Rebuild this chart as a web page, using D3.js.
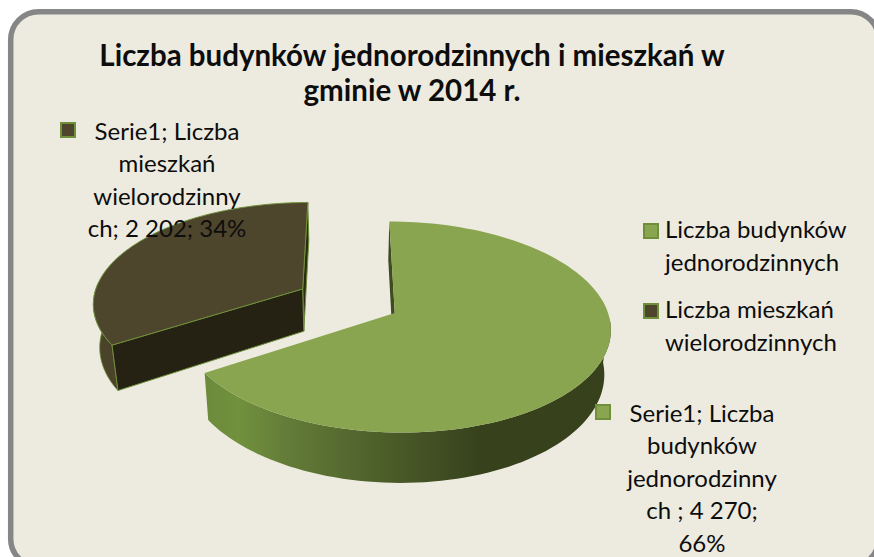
<!DOCTYPE html>
<html lang="pl">
<head>
<meta charset="utf-8">
<script src="https://cdn.jsdelivr.net/npm/d3@7"></script>
<style>
html,body{margin:0;padding:0;background:#fff;overflow:hidden}
svg{display:block}
text{font-family:Lato,Carlito,"Open Sans",sans-serif;fill:#0d0d0d}
</style>
</head>
<body>
<svg id="c" width="874" height="557"></svg>
<script>
const categories = ["Liczba budynków jednorodzinnych", "Liczba mieszkań wielorodzinnych"];
const values = [4270, 2202];
const titleLines = ["Liczba budynków jednorodzinnych i mieszkań w", "gminie w 2014 r."];
const legendLines = [["Liczba budynków", "jednorodzinnych"], ["Liczba mieszkań", "wielorodzinnych"]];
const dataLabelLines = [
  ["Serie1; Liczba", "budynków", "jednorodzinny", "ch ; 4 270;", "66%"],
  ["Serie1; Liczba", "mieszkań", "wielorodzinny", "ch; 2 202; 34%"]
];
const topColors = ["#8aa550", "#4d452c"];
const rimColor = "#6f8f3a";

const W = 874, H = 557;
const svg = d3.select("#c");
const defs = svg.append("defs");

/* panel */
svg.append("rect").attr("x", 10.7).attr("y", 11.7).attr("width", 868).attr("height", 555)
  .attr("rx", 28).attr("fill", "#edebe0").attr("stroke", "#868686").attr("stroke-width", 5.5);

/* perspective projection of the pie's plane */
const explode = 0.25, persp = 0.13, depth = 43;
const sx = d3.scaleLinear().domain([0, 1]).range([348, 558]);
const sy = d3.scaleLinear().domain([0, 1]).range([300.8, 200.3]);
function project(u, v, lower) {
  const d = 1 + persp * v;
  let x = sx(u / d), y = sy(v / d);
  if (lower) {
    x = sx(0) + (x - sx(0)) * 0.975;
    y = y + depth / d;
  }
  return [x, y];
}

const arcs = d3.pie().sort(null).startAngle(0).endAngle(2 * Math.PI)(values);
const line = d3.line();

function slice(a) {
  const mid = (a.startAngle + a.endAngle) / 2;
  const u0 = Math.sin(mid) * explode, v0 = Math.cos(mid) * explode;
  const rimAt = (t, lower) => project(u0 + Math.sin(t), v0 + Math.cos(t), lower);
  const apex = lower => project(u0, v0, lower);
  const ts = d3.range(0, 121).map(i => a.startAngle + (a.endAngle - a.startAngle) * i / 120);
  return {rimAt, apex, ts};
}
const green = slice(arcs[0]), dark = slice(arcs[1]);

/* horizontal shading of the outer wall */
const grad = defs.append("linearGradient").attr("id", "wall")
  .attr("gradientUnits", "userSpaceOnUse").attr("x1", 205).attr("x2", 480).attr("y1", 0).attr("y2", 0);
[[0, "#6c8a3c"], [0.12, "#71913d"], [0.3, "#637c38"], [0.62, "#4e602b"], [1, "#37421c"]]
  .forEach(([o, c]) => grad.append("stop").attr("offset", o).attr("stop-color", c));

function wall(s, ts, fill, stroke) {
  const pts = ts.map(t => s.rimAt(t, false)).concat(ts.slice().reverse().map(t => s.rimAt(t, true)));
  svg.append("path").attr("d", line(pts) + "Z").attr("fill", fill)
    .attr("stroke", stroke || "none").attr("stroke-width", stroke ? 0.8 : 0);
}
function face(pts, fill, stroke) {
  svg.append("path").attr("d", line(pts) + "Z").attr("fill", fill)
    .attr("stroke", stroke || "none").attr("stroke-width", stroke ? 1 : 0);
}

/* dark slice */
const dA0 = arcs[1].startAngle, dA1 = arcs[1].endAngle;
face([dark.rimAt(dA1, false), dark.apex(false), dark.apex(true), dark.rimAt(dA1, true)], "#2a2c12", rimColor);
wall(dark, dark.ts.filter(t => t < dA0 + (dA1 - dA0) * 0.3), "#4a4329", rimColor);
face([dark.apex(false), dark.rimAt(dA0, false), dark.rimAt(dA0, true), dark.apex(true)], "#252113", rimColor);
face([dark.apex(false)].concat(dark.ts.map(t => dark.rimAt(t, false))), topColors[1], rimColor);

/* green slice */
const gA0 = arcs[0].startAngle, gA1 = arcs[0].endAngle;
face([green.rimAt(gA0, false), green.apex(false), green.apex(true), green.rimAt(gA0, true)], "#3e4c20");
wall(green, green.ts.filter(t => t > 1.6), "url(#wall)");
face([green.apex(false)].concat(green.ts.map(t => green.rimAt(t, false))), topColors[0]);

/* title */
const title = svg.append("text").attr("text-anchor", "middle").attr("font-size", 29.5).attr("font-weight", 700);
titleLines.forEach((t, i) => title.append("tspan").attr("x", 412).attr("y", 66 + i * 35).text(t));

/* markers + text */
function marker(x, y, c) {
  svg.append("rect").attr("x", x + 1).attr("y", y + 1).attr("width", 14).attr("height", 14)
    .attr("fill", c).attr("stroke", rimColor).attr("stroke-width", 2);
}
function block(lines, x, y0, lh, anchor, size) {
  const t = svg.append("text").attr("text-anchor", anchor).attr("font-size", size);
  lines.forEach((l, i) => t.append("tspan").attr("x", x).attr("y", y0 + i * lh).text(l));
}

/* legend */
[223, 303].forEach((y, i) => {
  marker(643, y, topColors[i]);
  block(legendLines[i], 665, y + 15, 32.5, "start", 24);
});

/* data labels */
marker(60, 122, topColors[1]);
block(dataLabelLines[1], 167, 140, 32.3, "middle", 24);
marker(595, 404, topColors[0]);
block(dataLabelLines[0], 702, 422, 32.4, "middle", 24);
</script>
</body>
</html>
